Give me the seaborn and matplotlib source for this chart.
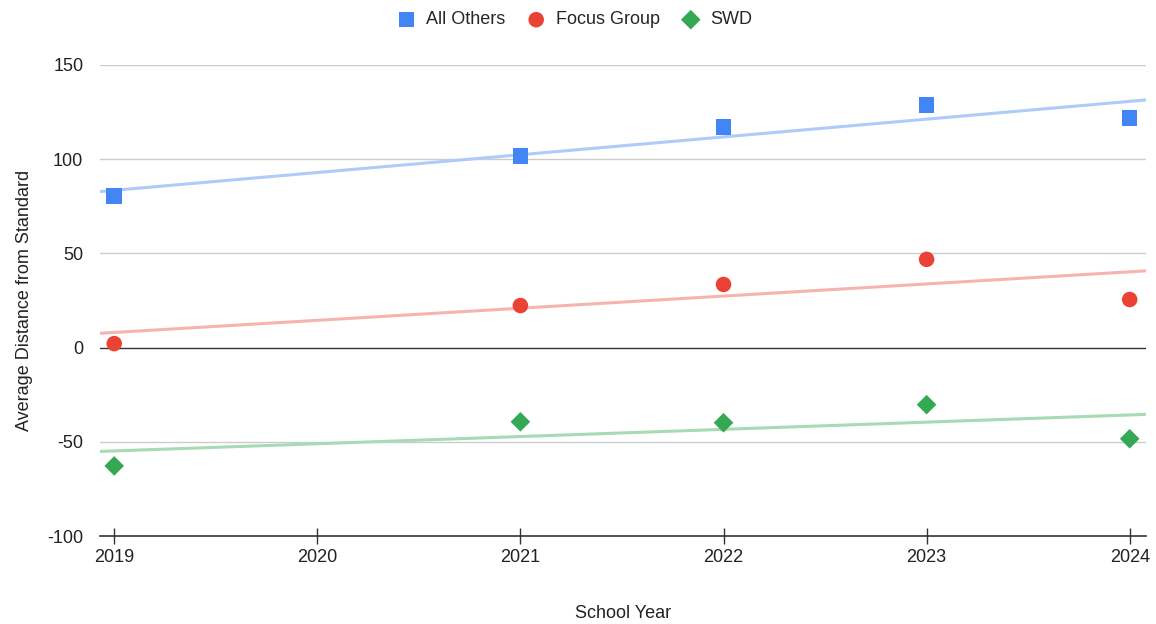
import numpy as np
import pandas as pd
import matplotlib
matplotlib.use("Agg")
import matplotlib.pyplot as plt
import seaborn as sns

years = [2019, 2021, 2022, 2023, 2024]
all_others = [80.3, 101.6, 117.0, 128.7, 121.8]
focus_group = [2.1, 22.3, 33.5, 46.8, 25.5]
swd = [-62.8, -39.4, -39.9, -30.3, -48.4]

series_names = ["All Others", "Focus Group", "SWD"]
colors = ["#4285F4", "#EA4335", "#34A853"]
trend_colors = ["#AECBFA", "#F5B5AE", "#A8DAB5"]
markers = ["s", "o", "D"]
sizes = [125, 125, 100]

df = pd.DataFrame({
    "year": years * 3,
    "value": all_others + focus_group + swd,
    "series": sum([[n] * len(years) for n in series_names], []),
})

sns.set_style("white")
plt.rcParams["font.family"] = ["Liberation Sans", "DejaVu Sans"]
plt.rcParams["axes.unicode_minus"] = False

fig = plt.figure(figsize=(11.56, 6.24), dpi=100)
ax = fig.add_axes([0.0865, 0.141, 0.9048, 0.755])

xlim = (2018.93, 2024.08)

# trendlines (linear fit, extended over the full axis)
xs = np.array(xlim)
for name, tc in zip(series_names, trend_colors):
    sub = df[df.series == name]
    slope, inter = np.polyfit(sub.year, sub.value, 1)
    ax.plot(xs, slope * xs + inter, color=tc, lw=2.2, zorder=2,
            solid_capstyle="butt")

for name, c, m, s in zip(series_names, colors, markers, sizes):
    sub = df[df.series == name]
    sns.scatterplot(data=sub, x="year", y="value", ax=ax, color=c, marker=m,
                    s=s, edgecolor="none", label=name, zorder=3)

ax.set_xlim(*xlim)
ax.set_ylim(-100, 150)
ax.set_yticks([-100, -50, 0, 50, 100, 150])
ax.set_xticks([2019, 2020, 2021, 2022, 2023, 2024])
ax.set_xticklabels([str(y) for y in range(2019, 2025)])

for v in [-50, 50, 100, 150]:
    ax.axhline(v, color="#cccccc", lw=1, zorder=1)
ax.axhline(0, color="#333333", lw=1, zorder=1)

for sp in ["top", "right", "left"]:
    ax.spines[sp].set_visible(False)
ax.spines["bottom"].set_color("#333333")
ax.spines["bottom"].set_linewidth(1.2)

ax.tick_params(axis="x", bottom=True, direction="inout", length=11, width=1,
               color="#333333", labelsize=13, pad=4, labelcolor="#222222")
ax.tick_params(axis="y", left=False, length=0, labelsize=13, pad=12,
               labelcolor="#222222")

ax.set_xlabel("School Year", fontsize=13, color="#222222", labelpad=28)
ax.set_ylabel("Average Distance from Standard", fontsize=13, color="#222222",
              labelpad=10)

ax.legend(loc="upper center", bbox_to_anchor=(0.455, 1.148), ncol=3,
          frameon=False, fontsize=13, handlelength=0.8, handletextpad=0.7,
          columnspacing=1.3, markerscale=1.0)

fig.savefig("out.png", dpi=100)
